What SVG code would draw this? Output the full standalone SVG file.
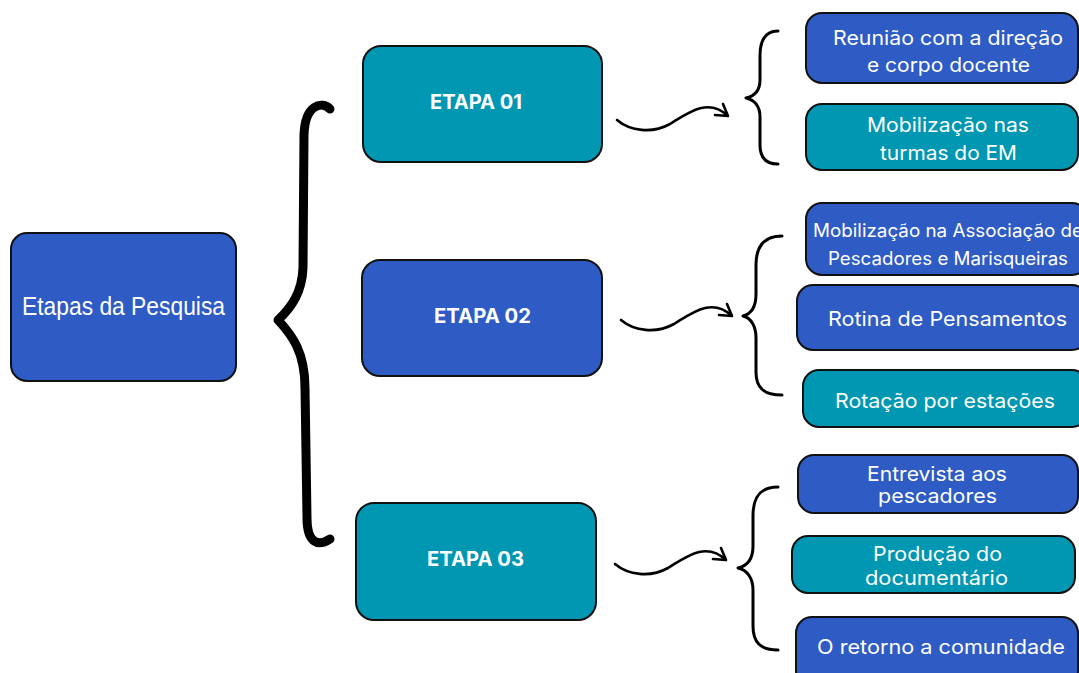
<svg xmlns="http://www.w3.org/2000/svg" width="1079" height="673" viewBox="0 0 1079 673">
<style>
.blue{fill:#2E5BC4;stroke:#111;stroke-width:2}
.teal{fill:#0097B2;stroke:#111;stroke-width:2}
.t{font-family:Inter,"Open Sans","Liberation Sans",sans-serif;fill:#fff;text-anchor:middle;font-size:20px}
.b{font-family:Inter,"Open Sans","Liberation Sans",sans-serif;fill:#fff;text-anchor:middle;font-size:19.5px;font-weight:700}
.main{font-family:"Liberation Sans Narrow","Liberation Sans",sans-serif;fill:#fff;text-anchor:middle;font-size:26px}
.arrow{fill:none;stroke:#000;stroke-width:2.6;stroke-linecap:round;stroke-linejoin:round}
.brace{fill:none;stroke:#000;stroke-width:3;stroke-linecap:round;stroke-linejoin:round}
.bigbrace{fill:none;stroke:#000;stroke-width:9;stroke-linecap:round;stroke-linejoin:round}
</style>
<rect width="1079" height="673" fill="#fff"/>
<g id="connectors">
<path class="bigbrace" d="M330,109 C322,101 305,104 304,135 L303,268 C302,292 292,307 278,320 C292,335 305,352 305,388 L307,518 C307,543 318,547 330,539"/>
<path class="brace" d="M778,31 C765,31 760,40 760,56 L760,80 C760,90 755,96 746,98 C755,100 760,107 760,117 L760,145 C760,158 766,164 778,164"/>
<path class="brace" d="M782,236 C764,236 756,246 756,265 L756,294 C756,307 751,314 743,316 C751,318 756,326 756,338 L756,372 C756,388 764,395 782,395"/>
<path class="brace" d="M778,487 C760,487 753,497 753,516 L753,546 C753,559 747,566 738,568 C747,570 753,578 753,590 L753,626 C753,642 760,650 778,650"/>
<path class="arrow" d="M617,120 C630,131 652,134 670,124 C688,113 708,97 728,116 M723,104 L728,116 L715,115"/>
<path class="arrow" d="M621,320 C634,331 656,334 674,324 C692,313 712,297 732,316 M727,304 L732,316 L719,315"/>
<path class="arrow" d="M615,564 C628,575 650,578 668,568 C686,557 706,541 726,560 M721,548 L726,560 L713,559"/>
</g>
<g id="main">
<rect class="blue" x="11" y="233" width="225" height="148" rx="16"/>
<text class="main" x="123.5" y="315" textLength="203" lengthAdjust="spacingAndGlyphs">Etapas da Pesquisa</text>
</g>
<g id="etapa01">
<rect class="teal" x="363" y="46" width="239" height="116" rx="18"/>
<text class="b" x="476" y="109" textLength="92" lengthAdjust="spacingAndGlyphs">ETAPA 01</text>
</g>
<g id="etapa02">
<rect class="blue" x="362" y="260" width="240" height="116" rx="18"/>
<text class="b" x="482.5" y="323" textLength="97" lengthAdjust="spacingAndGlyphs">ETAPA 02</text>
</g>
<g id="etapa03">
<rect class="teal" x="356" y="503" width="240" height="117" rx="18"/>
<text class="b" x="475.5" y="566" textLength="97" lengthAdjust="spacingAndGlyphs">ETAPA 03</text>
</g>
<g id="r1">
<rect class="blue" x="806" y="13" width="272" height="70" rx="16"/>
<text class="t" x="948" y="45" textLength="230" lengthAdjust="spacingAndGlyphs">Reunião com a direção</text>
<text class="t" x="948.5" y="72" textLength="163" lengthAdjust="spacingAndGlyphs">e corpo docente</text>
</g>
<g id="r2">
<rect class="teal" x="806" y="104" width="272" height="66" rx="16"/>
<text class="t" x="948" y="132" textLength="162" lengthAdjust="spacingAndGlyphs">Mobilização nas</text>
<text class="t" x="948.5" y="160" textLength="137" lengthAdjust="spacingAndGlyphs">turmas do EM</text>
</g>
<g id="r3">
<rect class="blue" x="806" y="203" width="282" height="72" rx="16"/>
<text class="t" x="948" y="237" style="font-size:18px" textLength="270" lengthAdjust="spacingAndGlyphs">Mobilização na Associação de</text>
<text class="t" x="948" y="265" style="font-size:18px" textLength="240" lengthAdjust="spacingAndGlyphs">Pescadores e Marisqueiras</text>
</g>
<g id="r4">
<rect class="blue" x="797" y="285" width="291" height="65" rx="16"/>
<text class="t" x="947.5" y="326" textLength="239" lengthAdjust="spacingAndGlyphs">Rotina de Pensamentos</text>
</g>
<g id="r5">
<rect class="teal" x="803" y="370" width="285" height="57" rx="16"/>
<text class="t" x="945" y="408" textLength="220" lengthAdjust="spacingAndGlyphs">Rotação por estações</text>
</g>
<g id="r6">
<rect class="blue" x="798" y="455" width="280" height="58" rx="16"/>
<text class="t" x="937" y="481" textLength="140" lengthAdjust="spacingAndGlyphs">Entrevista aos</text>
<text class="t" x="937.5" y="503" textLength="119" lengthAdjust="spacingAndGlyphs">pescadores</text>
</g>
<g id="r7">
<rect class="teal" x="792" y="536" width="283" height="57" rx="16"/>
<text class="t" x="937.5" y="561" textLength="129" lengthAdjust="spacingAndGlyphs">Produção do</text>
<text class="t" x="936.5" y="585" textLength="143" lengthAdjust="spacingAndGlyphs">documentário</text>
</g>
<g id="r8">
<rect class="blue" x="796" y="617" width="282" height="70" rx="16"/>
<text class="t" x="941" y="654" textLength="248" lengthAdjust="spacingAndGlyphs">O retorno a comunidade</text>
</g>
</svg>
